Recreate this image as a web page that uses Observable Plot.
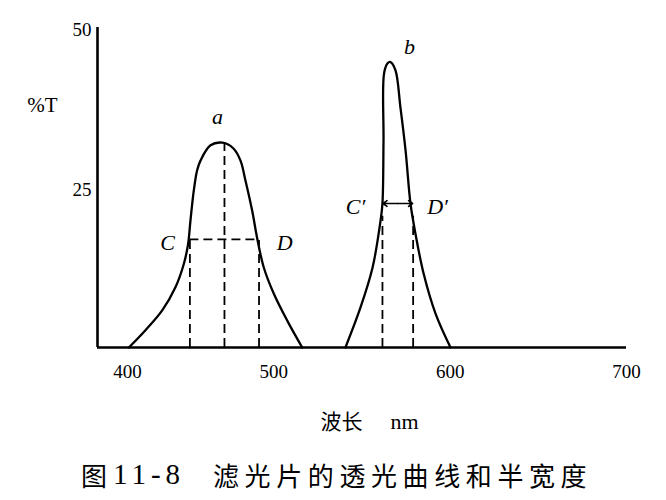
<!DOCTYPE html>
<html><head><meta charset="utf-8">
<script src="https://cdn.jsdelivr.net/npm/d3@7"></script>
<script src="https://cdn.jsdelivr.net/npm/@observablehq/plot@0.6"></script>
<style>
body{margin:0;background:#fff;width:666px;}
#chart svg{display:block;}
#cap{position:relative;height:55px;width:666px;color:#000;}
#cap span{position:absolute;top:2px;line-height:55px;white-space:nowrap;}
.cjk{font-family:"Noto Sans CJK SC";font-size:26px;}
.num{font-family:"Liberation Serif";font-size:29px;letter-spacing:5px;}
</style></head><body>
<div id="chart"></div>
<div id="cap"><span class="cjk" style="left:81px">图</span><span class="num" style="left:113px">11-8</span><span class="cjk" style="left:213px;letter-spacing:5.6px">滤光片的透光曲线和半宽度</span></div>
<script>
// wavelength axis (nm)
const xTicks = [500, 600, 700];
const xFirstTick = [400];
const xDomain = [400, 700];
const yTicks = [25, 50];

// curve a (broad filter)
const aNm = [417.8, 427.2, 436.7, 444.2, 448.9, 451.4, 452.7, 454.6, 456.5, 458.4, 464.1, 470.9, 477.1, 481.1, 483.9, 487.7, 490.6, 494.3, 500.0, 507.6, 516.1];
const aT  = [0, 2.7, 5.8, 9.4, 13.0, 16.2, 19.8, 24.5, 27.7, 29.2, 31.6, 32.0, 31.1, 29.2, 26.1, 21.4, 17.0, 12.5, 8.4, 4.2, 0];
// curve b (narrow filter)
const bNm = [540.6, 549.2, 556.0, 560.5, 561.6, 562.2, 562.5, 564.5, 566.2, 569.0, 571.8, 574.7, 577.5, 580.3, 584.9, 591.7, 600.2];
const bT  = [0, 6.3, 12.5, 19.8, 22.5, 32.3, 42.8, 44.4, 44.6, 43.3, 37.5, 30.8, 22.5, 17.8, 11.6, 5.3, 0];

// half-width construction
const aPeakNm = 472.0, aPeakT = 32.0, aHalfT = 16.9, aCNm = 452.4, aDNm = 491.6;
const bCNm = 561.6, bDNm = 579.0, bHalfT = 22.5, bDashTop = 20.5;

// annotations
const labelText = ["a", "b", "C", "D", "C′", "D′"];
const labelNm   = [468.1, 576.9, 439.7, 506.1, 546.3, 592.8];
const labelT    = [36.1, 47.0, 16.4, 16.4, 21.9, 21.9];

const pts = (xs, ys) => xs.map((x, i) => ({x, y: ys[i]}));
const labels = labelText.map((t, i) => ({t, x: labelNm[i], y: labelT[i]}));
const dash = {stroke: "#000", strokeWidth: 1.8, strokeDasharray: "9,5"};
const bMid = (bCNm + bDNm) / 2;
const arrows = [{x1: bMid, x2: bCNm + 0.3}, {x1: bMid, x2: bDNm - 0.3}];

const plot = Plot.plot({
  width: 666, height: 445,
  marginLeft: 97, marginRight: 40, marginTop: 27, marginBottom: 98,
  x: {domain: xDomain},
  y: {domain: [0, 50]},
  style: {fontFamily: "Liberation Serif", fontSize: "18px", color: "#000", background: "#fff", overflow: "visible"},
  marks: [
    Plot.axisX({ticks: xTicks, tickSize: 0, tickPadding: 17, label: null, fontSize: 19}),
    Plot.axisX({ticks: xFirstTick, tickSize: 0, tickPadding: 17, label: null, fontSize: 19, dx: 30}),
    Plot.axisY({ticks: yTicks, tickSize: 0, tickPadding: 6, label: null, fontSize: 19, dy: 2}),
    // dashed construction lines
    Plot.ruleX([aCNm, aDNm], {y1: 0, y2: aHalfT, ...dash}),
    Plot.ruleX([aPeakNm], {y1: 0, y2: aPeakT, ...dash}),
    Plot.ruleY([aHalfT], {x1: aCNm, x2: aDNm, ...dash}),
    Plot.ruleX([bCNm, bDNm], {y1: 0, y2: bDashTop, ...dash}),
    Plot.arrow(arrows, {x1: "x1", x2: "x2", y1: bHalfT, y2: bHalfT, stroke: "#000", strokeWidth: 1.6, headLength: 8, headAngle: 70, bend: 0, insetStart: 0, insetEnd: 0}),
    // curves
    Plot.line(pts(aNm, aT), {x: "x", y: "y", curve: "catmull-rom", stroke: "#000", strokeWidth: 2.3}),
    Plot.line(pts(bNm, bT), {x: "x", y: "y", curve: "catmull-rom", stroke: "#000", strokeWidth: 2.3}),
    // axis lines
    Plot.ruleY([0], {stroke: "#000", strokeWidth: 2.6}),
    Plot.ruleX([xDomain[0]], {y1: 0, y2: 50, stroke: "#000", strokeWidth: 2.6}),
    // labels
    Plot.text(labels, {x: "x", y: "y", text: "t", fontStyle: "italic", fontSize: 22, fontFamily: "Liberation Serif"}),
    Plot.text(["%T"], {frameAnchor: "top-left", textAnchor: "middle", lineAnchor: "middle", dx: -55, dy: 78, fontSize: 21, fontFamily: "Liberation Serif"}),
    Plot.text(["波长"], {frameAnchor: "bottom-left", lineAnchor: "middle", dx: 223, dy: 75, textAnchor: "start", fontSize: 21, fontFamily: "Noto Sans CJK SC"}),
    Plot.text(["nm"], {frameAnchor: "bottom-left", lineAnchor: "middle", dx: 293, dy: 74, textAnchor: "start", fontSize: 22, fontFamily: "Liberation Serif"})
  ]
});
document.getElementById("chart").appendChild(plot);
</script>
</body></html>
